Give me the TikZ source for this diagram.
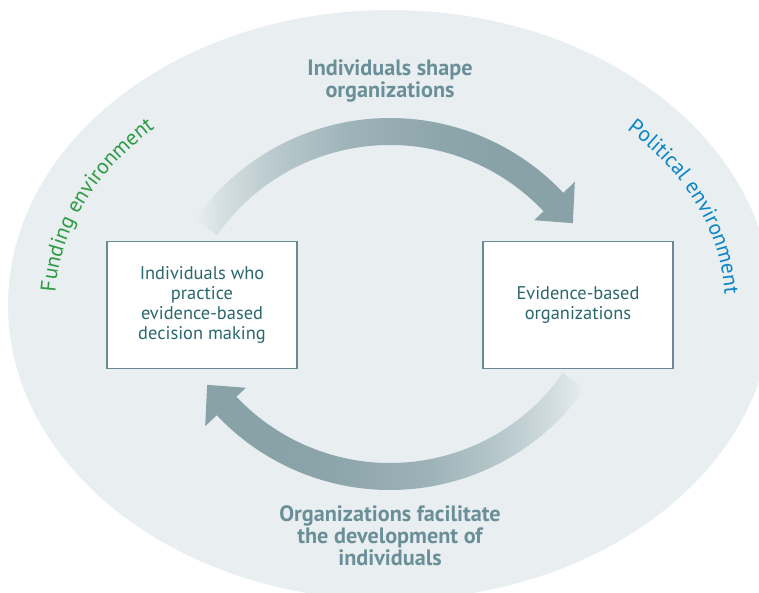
\documentclass[tikz,border=0pt]{standalone}
\usepackage{fontspec}
\setmainfont{PT Sans}
\usetikzlibrary{calc,decorations.text}
\definecolor{bgc}{RGB}{233,239,241}
\definecolor{arrowc}{RGB}{136,162,168}
\definecolor{labelc}{RGB}{107,143,152}
\definecolor{boxtext}{RGB}{42,104,110}
\definecolor{boxc}{RGB}{105,138,147}
\definecolor{fundc}{RGB}{46,154,67}
\definecolor{polc}{RGB}{10,132,198}
\pgfdeclarehorizontalshading{arrowfade}{100bp}{color(0bp)=(bgc); color(25bp)=(bgc); color(28bp)=(arrowc!18!bgc); color(36bp)=(arrowc!50!bgc); color(46bp)=(arrowc!78!bgc); color(58bp)=(arrowc!95!bgc); color(66bp)=(arrowc); color(100bp)=(arrowc)}
\tikzset{
  boxnode/.style={draw=boxc, line width=1.2pt, fill=white, minimum width=190pt, minimum height=127pt, inner sep=0pt},
  boxlabel/.style={align=center, text=boxtext, font=\fontsize{18.4}{20}\selectfont, inner sep=0pt},
  boldlabel/.style={align=center, text=labelc, font=\fontsize{22.2}{22}\selectfont\bfseries, inner sep=0pt},
  headfill/.style={fill=arrowc}
}
\begin{document}
\begin{tikzpicture}[x=1pt,y=1pt]
\useasboundingbox (0,0) rectangle (759,-593);
\begin{scope}
  \clip (0,0) rectangle (759,-593);
  \fill[bgc] (390,-305) ellipse[x radius=382, y radius=295];
\end{scope}
% top arrow
\coordinate (ct) at (390,-356);
\shade[shading=arrowfade] ($(ct)+(145:238)$) arc[start angle=145,end angle=42,radius=238] -- ($(ct)+(42:211)$) arc[start angle=42,end angle=145,radius=211] -- cycle;
\fill[headfill] ($(ct)+(43.3:254)$) -- ($(ct)+(36:226)$) -- ($(ct)+(43.3:198)$) -- cycle;
% bottom arrow
\coordinate (cb) at (390,-252);
\shade[shading=arrowfade, shading angle=180] ($(cb)+(-35:238)$) arc[start angle=-35,end angle=-138,radius=238] -- ($(cb)+(-138:211)$) arc[start angle=-138,end angle=-35,radius=211] -- cycle;
\fill[headfill] ($(cb)+(223.3:254)$) -- ($(cb)+(216:226)$) -- ($(cb)+(223.3:198)$) -- cycle;
% boxes
\node[boxnode] (indiv) at (202,-305) {};
\node[boxlabel] (indivtext) at (indiv.center) {Individuals who\\practice\\evidence-based\\decision making};
\node[boxnode] (orgs) at (578,-305) {};
\node[boxlabel] (orgstext) at (orgs.center) {Evidence-based\\organizations};
% bold labels
\node[boldlabel, anchor=north] (shape) at (390,-60) {Individuals shape\\organizations};
\node[boldlabel, anchor=north] (facil) at (390,-505) {Organizations facilitate\\the development of\\individuals};
% environment labels
\path[decorate, decoration={text along path, text align=left, text color=fundc, text={|\fontsize{21.5}{22}\selectfont|Funding environment}}]
  ($(390,-305)+(177:335 and 248)$) arc[start angle=177, end angle=110, x radius=335, y radius=248];
\path[decorate, decoration={text along path, text align=left, text color=polc, text={|\fontsize{21.5}{22}\selectfont|Political environment}}]
  ($(390,-305)+(45:335 and 248)$) arc[start angle=45, end angle=-20, x radius=335, y radius=248];
\end{tikzpicture}
\end{document}
